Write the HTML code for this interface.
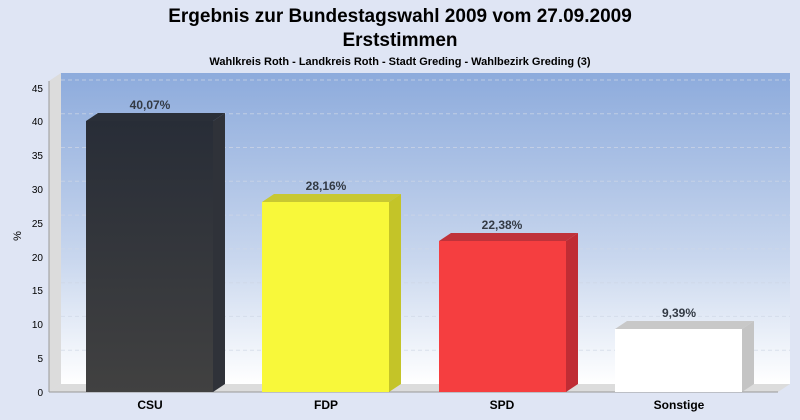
<!DOCTYPE html>
<html><head><meta charset="utf-8"><style>
body{margin:0;background:#dfe5f4;}
svg{display:block;font-family:"Liberation Sans",Arial,sans-serif;}
</style></head><body>
<svg width="800" height="420" viewBox="0 0 800 420">
<defs>
<linearGradient id="bg" x1="0" y1="0" x2="0" y2="1">
<stop offset="0" stop-color="#8dabdc"/><stop offset="0.6" stop-color="#c9d7ee"/><stop offset="1" stop-color="#ffffff"/>
</linearGradient>
<linearGradient id="csu" x1="0" y1="0" x2="0" y2="1">
<stop offset="0" stop-color="#282d37"/><stop offset="1" stop-color="#414141"/>
</linearGradient>
</defs>
<rect width="800" height="420" fill="#dfe5f4"/>
<text x="400" y="22" text-anchor="middle" font-size="19" font-weight="bold">Ergebnis zur Bundestagswahl 2009 vom 27.09.2009</text>
<text x="400" y="46" text-anchor="middle" font-size="19" font-weight="bold">Erststimmen</text>
<text x="400" y="65" text-anchor="middle" font-size="11" font-weight="bold">Wahlkreis Roth - Landkreis Roth - Stadt Greding - Wahlbezirk Greding (3)</text>
<rect x="61" y="73" width="729" height="311" fill="url(#bg)"/>
<polygon points="49,81 61,73 61,384 49,392" fill="#dcdcdc"/>
<polygon points="49,392 61,384 790,384 778,392" fill="#dcdcdc"/>
<g stroke="#d0d8e6" stroke-dasharray="4,3" stroke-width="1" opacity="0.7">
<line x1="61" y1="350.2" x2="790" y2="350.2"/><line x1="61" y1="316.4" x2="790" y2="316.4"/>
<line x1="61" y1="282.7" x2="790" y2="282.7"/><line x1="61" y1="248.9" x2="790" y2="248.9"/>
<line x1="61" y1="215.1" x2="790" y2="215.1"/><line x1="61" y1="181.3" x2="790" y2="181.3"/>
<line x1="61" y1="147.5" x2="790" y2="147.5"/><line x1="61" y1="113.8" x2="790" y2="113.8"/>
<line x1="61" y1="80" x2="790" y2="80"/>
</g>
<line x1="49" y1="81" x2="49" y2="392" stroke="#999"/>
<line x1="49" y1="392" x2="778" y2="392" stroke="#999"/>
<g font-size="10" text-anchor="end">
<text x="43" y="396">0</text><text x="43" y="362">5</text><text x="43" y="328">10</text>
<text x="43" y="294">15</text><text x="43" y="261">20</text><text x="43" y="227">25</text>
<text x="43" y="193">30</text><text x="43" y="159">35</text><text x="43" y="125">40</text>
<text x="43" y="92">45</text>
</g>
<text x="21" y="236" font-size="11" transform="rotate(-90 21 236)" text-anchor="middle">%</text>
<g>
<polygon points="86,121 98,113 225,113 213,121" fill="#2a2f38"/>
<polygon points="213,121 225,113 225,384 213,392" fill="#2f3239"/>
<rect x="86" y="121" width="127" height="271" fill="url(#csu)"/>
<polygon points="262,202 274,194 401,194 389,202" fill="#c8c832"/>
<polygon points="389,202 401,194 401,384 389,392" fill="#c4c428"/>
<rect x="262" y="202" width="127" height="190" fill="#f8f83a"/>
<polygon points="439,241 451,233 578,233 566,241" fill="#c0323a"/>
<polygon points="566,241 578,233 578,384 566,392" fill="#c02c34"/>
<rect x="439" y="241" width="127" height="151" fill="#f53e40"/>
<polygon points="615,329 627,321 754,321 742,329" fill="#c8c8c8"/>
<polygon points="742,329 754,321 754,384 742,392" fill="#c4c4c4"/>
<rect x="615" y="329" width="127" height="63" fill="#ffffff"/>
</g>
<g font-size="12" font-weight="bold" fill="#333a44" text-anchor="middle">
<text x="150" y="109">40,07%</text><text x="326" y="190">28,16%</text>
<text x="502" y="229">22,38%</text><text x="679" y="317">9,39%</text>
</g>
<g font-size="12" font-weight="bold" text-anchor="middle">
<text x="150" y="409">CSU</text><text x="326" y="409">FDP</text>
<text x="502" y="409">SPD</text><text x="679" y="409">Sonstige</text>
</g>
</svg>
</body></html>
